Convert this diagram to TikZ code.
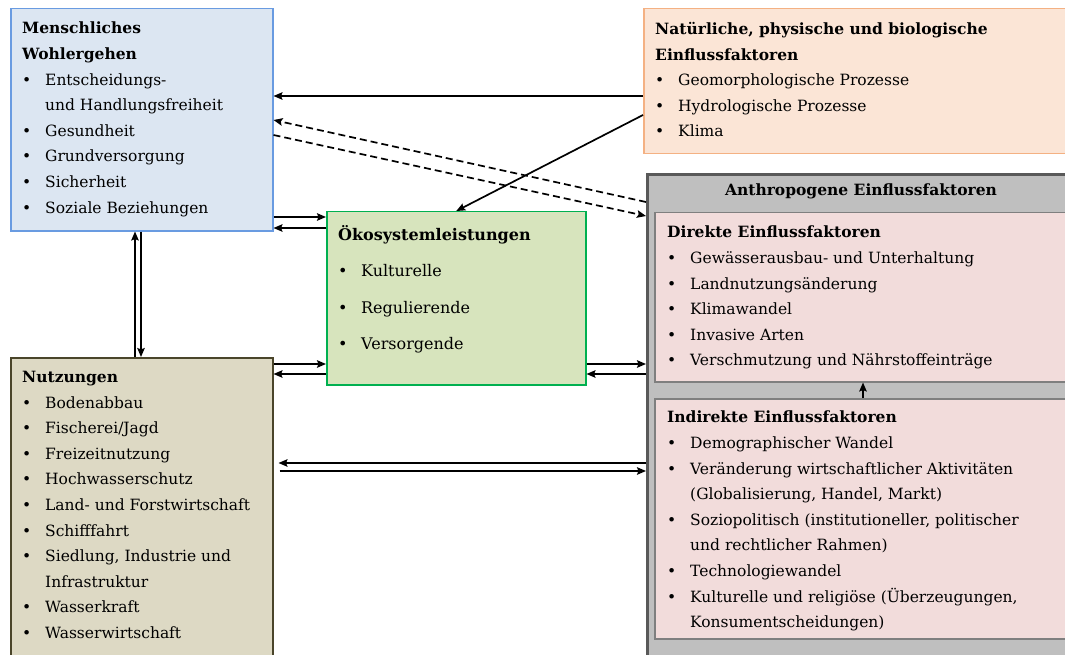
\documentclass[tikz,border=0pt]{standalone}
\usepackage{fontspec}
\setmainfont{DejaVu Serif}
\usetikzlibrary{arrows.meta}

\definecolor{menschfill}{RGB}{220,230,242}
\definecolor{menschline}{RGB}{105,155,225}
\definecolor{naturfill}{RGB}{251,229,214}
\definecolor{naturline}{RGB}{244,177,131}
\definecolor{oekofill}{RGB}{215,228,189}
\definecolor{oekoline}{RGB}{0,176,80}
\definecolor{nutzfill}{RGB}{221,217,196}
\definecolor{nutzline}{RGB}{74,69,42}
\definecolor{anthrofill}{RGB}{191,191,191}
\definecolor{anthroline}{RGB}{89,89,89}
\definecolor{faktorfill}{RGB}{242,220,219}
\definecolor{faktorline}{RGB}{127,127,127}

\newcommand{\bl}{\makebox[23pt][l]{\textbullet}}
\newcommand{\ind}{\hspace*{23pt}}

\begin{document}
\begin{tikzpicture}[x=1pt, y=-1pt,
    box/.style={draw, line width=1.5pt, anchor=north west, inner sep=0pt},
    txt/.style={anchor=north west, inner sep=0pt, align=left,
      font=\fontsize{15.5}{25.6}\selectfont},
    arr/.style={-{Stealth[length=9pt,width=7.5pt,inset=1.5pt]}, line width=1.7pt},
    dash arr/.style={arr, dash pattern=on 7pt off 4pt}]
    \useasboundingbox (0,0) rectangle (1065,655);
    \clip (0,0) rectangle (1065,655);
    % Boxes
    \node (mensch) [box, draw=menschline, fill=menschfill,
      minimum width=262pt, minimum height=222pt] at (10,8) {};
    \node (natur) [box, draw=naturline, fill=naturfill,
      minimum width=432pt, minimum height=145pt] at (643,8) {};
    \node (oeko) [box, draw=oekoline, fill=oekofill,
      minimum width=259pt, minimum height=173pt] at (326,211) {};
    \node (nutz) [box, draw=nutzline, fill=nutzfill,
      minimum width=262pt, minimum height=310pt] at (10,357) {};
    \node (anthro) [box, draw=anthroline, fill=anthrofill, line width=3pt,
      minimum width=430pt, minimum height=495pt] at (646,173) {};
    \node (direkt) [box, draw=faktorline, fill=faktorfill,
      minimum width=421pt, minimum height=169pt] at (654,212) {};
    \node (indirekt) [box, draw=faktorline, fill=faktorfill,
      minimum width=421pt, minimum height=240pt] at (654,398) {};

    % Texts
    \node (menschtxt) [txt] at (22,22) {\textbf{Menschliches}\\
      \textbf{Wohlergehen}\\
      \bl Entscheidungs-\\
      \ind und Handlungsfreiheit\\
      \bl Gesundheit\\
      \bl Grundversorgung\\
      \bl Sicherheit\\
      \bl Soziale Beziehungen};
    \node (naturtxt) [txt] at (655,22) {\textbf{Natürliche, physische und biologische}\\
      \textbf{Einflussfaktoren}\\
      \bl Geomorphologische Prozesse\\
      \bl Hydrologische Prozesse\\
      \bl Klima};
    \node (oekotxt) [txt, font=\fontsize{16}{36.5}\selectfont] at (338,225)
      {\textbf{Ökosystemleistungen}\\
      \bl Kulturelle\\
      \bl Regulierende\\
      \bl Versorgende};
    \node (nutztxt) [txt] at (22,371) {\textbf{Nutzungen}\\
      \bl Bodenabbau\\
      \bl Fischerei/Jagd\\
      \bl Freizeitnutzung\\
      \bl Hochwasserschutz\\
      \bl Land- und Forstwirtschaft\\
      \bl Schifffahrt\\
      \bl Siedlung, Industrie und\\
      \ind Infrastruktur\\
      \bl Wasserkraft\\
      \bl Wasserwirtschaft};
    \node (anthrotxt) [txt, anchor=center] at (861,191)
      {\textbf{Anthropogene Einflussfaktoren}};
    \node (direkttxt) [txt] at (667,226) {\textbf{Direkte Einflussfaktoren}\\
      \bl Gewässerausbau- und Unterhaltung\\
      \bl Landnutzungsänderung\\
      \bl Klimawandel\\
      \bl Invasive Arten\\
      \bl Verschmutzung und Nährstoffeinträge};
    \node (indirekttxt) [txt] at (667,411) {\textbf{Indirekte Einflussfaktoren}\\
      \bl Demographischer Wandel\\
      \bl Veränderung wirtschaftlicher Aktivitäten\\
      \ind (Globalisierung, Handel, Markt)\\
      \bl Soziopolitisch (institutioneller, politischer\\
      \ind und rechtlicher Rahmen)\\
      \bl Technologiewandel\\
      \bl Kulturelle und religiöse (Überzeugungen,\\
      \ind Konsumentscheidungen)};

    % Arrows
    \draw [arr] (natur.west |- 0,96) -- (mensch.east |- 0,96);
    \draw [arr] (natur.west |- 0,115) -- (oeko.north);
    \draw [dash arr] (anthro.west |- 0,202) -- (mensch.east |- 0,120);
    \draw [dash arr] (mensch.east |- 0,135) -- (anthro.west |- 0,216);
    \draw [arr] (mensch.east |- 0,217) -- (oeko.west |- 0,217);
    \draw [arr] (oeko.west |- 0,228) -- (mensch.east |- 0,228);
    \draw [arr] (nutz.north -| 135,0) -- (mensch.south -| 135,0);
    \draw [arr] (mensch.south -| 141,0) -- (nutz.north -| 141,0);
    \draw [arr] (nutz.east |- 0,364) -- (oeko.west |- 0,364);
    \draw [arr] (oeko.west |- 0,374) -- (nutz.east |- 0,374);
    \draw [arr] (oeko.east |- 0,364) -- (anthro.west |- 0,364);
    \draw [arr] (anthro.west |- 0,374) -- (oeko.east |- 0,374);
    \draw [arr, shorten >=5pt] (anthro.west |- 0,463) -- (nutz.east |- 0,463);
    \draw [arr, shorten <=6pt] (nutz.east |- 0,471) -- (anthro.west |- 0,471);
    \draw [arr] (indirekt.north -| 863,0) -- (direkt.south -| 863,0);
\end{tikzpicture}
\end{document}
